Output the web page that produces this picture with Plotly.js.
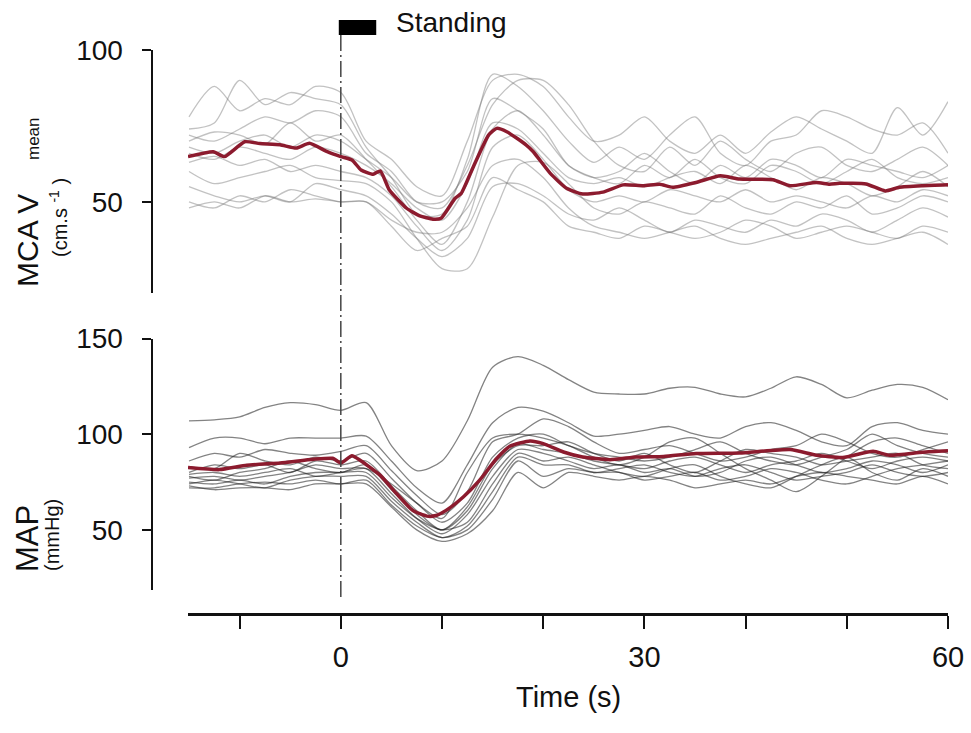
<!DOCTYPE html>
<html>
<head>
<meta charset="utf-8">
<script src="https://cdn.plot.ly/plotly-3.0.1.min.js"></script>
<style>html,body{margin:0;padding:0;background:#fff;}#chart{width:971px;height:733px;}</style>
</head>
<body>
<div id="chart"></div>
<script>
// time grid for individual subject traces (s)
const traceTime = [-15,-12.5,-10,-7.5,-5,-2.5,0,2.5,5,7.5,10,12.5,15,17.5,20,22.5,25,27.5,30,32.5,35,37.5,40,42.5,45,47.5,50,52.5,55,57.5,60];

// MCA Vmean individual traces (cm/s)
const mca1  = [78,88,80,84,82,88,86,70,64,55,52,70,90,92,88,78,70,72,78,70,66,72,66,73,78,74,70,66,81,72,83];
const mca2  = [74,76,90,82,86,84,82,68,58,46,46,64,92,88,80,70,63,68,64,72,78,66,62,70,72,80,78,74,72,76,66];
const mca3  = [72,70,74,78,76,80,78,66,60,50,48,62,82,90,90,82,70,62,60,68,62,70,64,60,66,68,62,60,64,68,62];
const mca4  = [70,73,72,69,76,70,72,64,55,44,36,50,74,80,72,62,58,56,62,58,64,58,56,62,60,56,60,64,58,56,58];
const mca5  = [66,64,68,66,64,68,66,62,56,48,44,56,76,74,66,58,56,58,55,58,60,56,62,58,54,58,56,52,55,60,55];
const mca6  = [63,65,62,64,60,62,60,58,52,42,34,44,68,72,64,54,50,52,50,54,52,50,54,50,52,50,48,52,50,54,52];
const mca7  = [60,56,58,60,62,58,57,56,50,38,28,28,45,62,63,56,48,46,50,48,46,52,48,46,50,48,52,46,48,52,50];
const mca8  = [55,52,50,52,50,56,54,52,46,38,32,38,55,56,52,46,44,48,44,40,44,42,40,44,42,46,44,40,44,48,45];
const mca9  = [48,50,48,52,50,51,50,50,42,34,38,42,58,54,50,42,40,38,42,40,38,40,44,42,38,40,42,40,38,42,40];
const mca10 = [50,48,52,50,54,52,50,50,44,40,40,48,62,64,58,48,42,40,38,40,42,38,36,38,40,42,38,36,38,40,36];
const mca11 = [68,66,70,72,68,72,70,64,58,50,50,60,84,80,74,62,58,60,66,60,56,62,58,64,62,58,64,62,60,58,62];

// MCA Vmean group mean
const mcaMeanTime = [-15.1,-12.6,-11.5,-9.5,-8,-6,-4.4,-3.1,-1.4,0,1.1,2,3.2,3.9,4.8,6.5,7.8,9.1,9.9,11.3,11.9,13.1,14.6,15.4,16.4,18.3,19,20.7,22.3,23.9,25.9,27.9,29.9,31.5,32.8,35.1,37.5,39.4,42.7,44.4,47,48.3,49.3,51.9,53.8,55.2,57.5,60];
const mcaMean = [64.9,66.5,64.9,69.8,69.2,68.8,67.7,69.3,66.6,64.9,63.8,60.5,59.1,60.2,53.9,47.9,45.4,44.3,44.6,51.2,52.8,61.6,72,74.2,73.1,68.8,66.6,59.4,54.5,52.6,53.2,55.6,55.3,55.8,54.8,56.4,58.6,57.5,57.3,55.3,56.4,55.8,56.1,55.9,53.6,54.8,55.3,55.6];

// MAP individual traces (mmHg)
const map1  = [107,107.5,109,114,116.5,115.5,112.5,116.5,94,81,86,107,135,140.5,136,128.5,122,121,121,124,124.5,121,119.5,124,130,126,119,123,126,124.5,118];
const map2  = [93,98,98,95,98,98,98,99,86,72,64,84,106,114,112,106,99,100,102,104,100,98,104,106,102,96,94,104,106,102,100];
const map3  = [86,90,88,92,90,89,91,94,81,68,58,70,96,100,108,104,96,90,92,94,90,86,88,92,94,100,96,90,88,92,96];
const map4  = [83,82,90,86,84,88,86,90,77,64,54,64,88,98,100,94,90,88,86,88,92,96,90,86,84,88,92,100,94,90,88];
const map5  = [80,84,82,84,80,86,84,86,73,60,50,62,84,94,94,96,90,86,90,84,80,86,92,90,88,84,86,88,90,84,82];
const map6  = [78,76,80,82,86,82,80,84,71,58,50,60,82,95,92,90,86,84,82,86,88,84,80,84,86,90,86,82,86,88,86];
const map7  = [77,78,76,78,80,84,82,82,69,56,48,58,78,92,90,86,82,84,80,82,78,80,86,88,84,80,82,86,84,80,84];
const map8  = [75,74,76,74,78,80,80,80,67,56,50,54,74,90,86,88,84,80,78,82,84,78,74,72,78,84,88,80,76,82,78];
const map9  = [74,76,74,72,76,78,78,78,65,54,46,52,70,88,84,84,80,82,84,80,78,82,84,80,76,78,80,84,80,78,80];
const map10 = [72,72,74,75,74,76,74,76,63,52,46,50,66,86,78,82,80,80,76,78,80,76,78,82,80,76,74,78,82,84,86];
const map11 = [73,71,72,72,71,74,74,74,62,50,44,48,60,80,72,80,78,76,78,76,72,74,76,74,78,80,78,76,74,78,74];
const map12 = [79,80,78,80,82,78,80,82,74,64,56,80,98,100,98,94,88,84,88,96,98,90,82,76,70,78,88,96,98,94,90];

// MAP group mean
const mapMeanTime = [-15.1,-12,-9.3,-6,-2.7,-0.8,0,1.1,1.9,3.9,5.5,7.1,8.5,9.4,10.4,12.1,13.7,15.4,16.7,18.7,20,22,23.9,26.6,29.2,31.9,35.1,39.4,44.4,47,49.6,52.6,54.2,57.5,60];
const mapMean = [82.6,81.5,83.8,85,86.9,87.4,85,88.7,86.4,78.5,69,60.2,57.2,57.5,60.2,67.2,75.9,87.3,93.7,96.5,95.1,90.7,88.1,86.7,88.1,88.4,89.9,90.2,92,89,87.8,91.1,89,90.6,91.3];

// axis ticks
const xTickVals = [0,30,60];
const xTickText = ['0','30','60'];
const xMinorStep = 10;
const mcaTickVals = [50,100];
const mapTickVals = [50,100,150];
const standingPeriod = [-0.2,3.5];

const FONT = 'Liberation Sans, Arial, Helvetica, sans-serif';
const RED = '#8c1b2e';

const mcaTraces = [mca1,mca2,mca3,mca4,mca5,mca6,mca7,mca8,mca9,mca10,mca11];
const mapTraces = [map1,map2,map3,map4,map5,map6,map7,map8,map9,map10,map11,map12];

const data = [];
mcaTraces.forEach(v => data.push({
  x: traceTime, y: v, xaxis: 'x', yaxis: 'y', mode: 'lines', hoverinfo: 'skip',
  line: {color: 'rgba(120,120,120,0.45)', width: 1.3, shape: 'spline', smoothing: 0.8}, showlegend: false
}));
mapTraces.forEach(v => data.push({
  x: traceTime, y: v, xaxis: 'x', yaxis: 'y2', mode: 'lines', hoverinfo: 'skip',
  line: {color: 'rgba(30,30,30,0.55)', width: 1.3, shape: 'spline', smoothing: 0.8}, showlegend: false
}));
data.push({x: mcaMeanTime, y: mcaMean, xaxis: 'x', yaxis: 'y', mode: 'lines',
  line: {color: RED, width: 3.5, shape: 'spline', smoothing: 0.5}, showlegend: false});
data.push({x: mapMeanTime, y: mapMean, xaxis: 'x', yaxis: 'y2', mode: 'lines',
  line: {color: RED, width: 3.5, shape: 'spline', smoothing: 0.5}, showlegend: false});

const W = 971, H = 733;
const px = v => v / W;
const py = v => 1 - v / H;

const yCommon = {
  showgrid: false, zeroline: false, showline: true, linecolor: '#111', linewidth: 2.5,
  ticks: 'outside', ticklen: 9, tickwidth: 2, tickcolor: '#111',
  tickfont: {family: FONT, size: 28, color: '#111'}, ticklabelstandoff: 13,
  anchor: 'free', position: px(151.5)
};

const layout = {
  width: W, height: H,
  margin: {l: 0, r: 0, t: 0, b: 0},
  paper_bgcolor: '#fff', plot_bgcolor: 'rgba(0,0,0,0)',
  font: {family: FONT, color: '#111'},
  xaxis: {
    domain: [px(188), px(948)], range: [-15.1, 60],
    anchor: 'free', position: py(614),
    showgrid: false, zeroline: false, showline: true, linecolor: '#111', linewidth: 2.5,
    ticks: 'outside', ticklen: 13, tickwidth: 2, tickcolor: '#111',
    tickvals: xTickVals, ticktext: xTickText,
    minor: {tick0: 0, dtick: xMinorStep, ticks: 'outside', ticklen: 13, tickwidth: 2, tickcolor: '#111', showgrid: false},
    tickfont: {family: FONT, size: 29, color: '#111'}, ticklabelstandoff: 4
  },
  yaxis: Object.assign({}, yCommon, {domain: [py(293), py(50)], range: [20, 100], tickvals: mcaTickVals}),
  yaxis2: Object.assign({}, yCommon, {domain: [py(590), py(338.5)], range: [18.6, 150], tickvals: mapTickVals}),
  shapes: [
    {type: 'line', xref: 'x', yref: 'paper', x0: 0, x1: 0, y0: py(597), y1: py(35),
     line: {color: '#444', width: 1.5, dash: '16px,4px,2px,4px'}},
    {type: 'rect', xref: 'x', yref: 'paper', x0: standingPeriod[0], x1: standingPeriod[1], y0: py(35), y1: py(20),
     fillcolor: '#000', line: {width: 0}}
  ],
  annotations: [
    {text: 'Standing', xref: 'x', yref: 'paper', x: 5.3, y: py(22), xanchor: 'left', yanchor: 'middle',
     showarrow: false, font: {family: FONT, size: 28, color: '#111'}},
    {text: 'Time (s)', xref: 'paper', yref: 'paper', x: px(568), y: py(697), xanchor: 'center', yanchor: 'middle',
     showarrow: false, font: {family: FONT, size: 29, color: '#111'}},
    {text: "MCA V",
     xref: 'paper', yref: 'paper', x: px(28), y: py(241), xanchor: 'center', yanchor: 'middle', textangle: -90,
     showarrow: false, font: {family: FONT, size: 30, color: '#111'}},
    {text: "mean",
     xref: 'paper', yref: 'paper', x: px(33), y: py(139), xanchor: 'center', yanchor: 'middle', textangle: -90,
     showarrow: false, font: {family: FONT, size: 17, color: '#111'}},
    {text: "(cm.s <sup>-1</sup> )",
     xref: 'paper', yref: 'paper', x: px(58), y: py(218), xanchor: 'center', yanchor: 'middle', textangle: -90,
     showarrow: false, font: {family: FONT, size: 20, color: '#111'}},
    {text: "MAP",
     xref: 'paper', yref: 'paper', x: px(27), y: py(539), xanchor: 'center', yanchor: 'middle', textangle: -90,
     showarrow: false, font: {family: FONT, size: 31, color: '#111'}},
    {text: "(mmHg)",
     xref: 'paper', yref: 'paper', x: px(52), y: py(535), xanchor: 'center', yanchor: 'middle', textangle: -90,
     showarrow: false, font: {family: FONT, size: 20, color: '#111'}}
  ]
};

Plotly.newPlot('chart', data, layout, {displayModeBar: false, staticPlot: true});
</script>
</body>
</html>
